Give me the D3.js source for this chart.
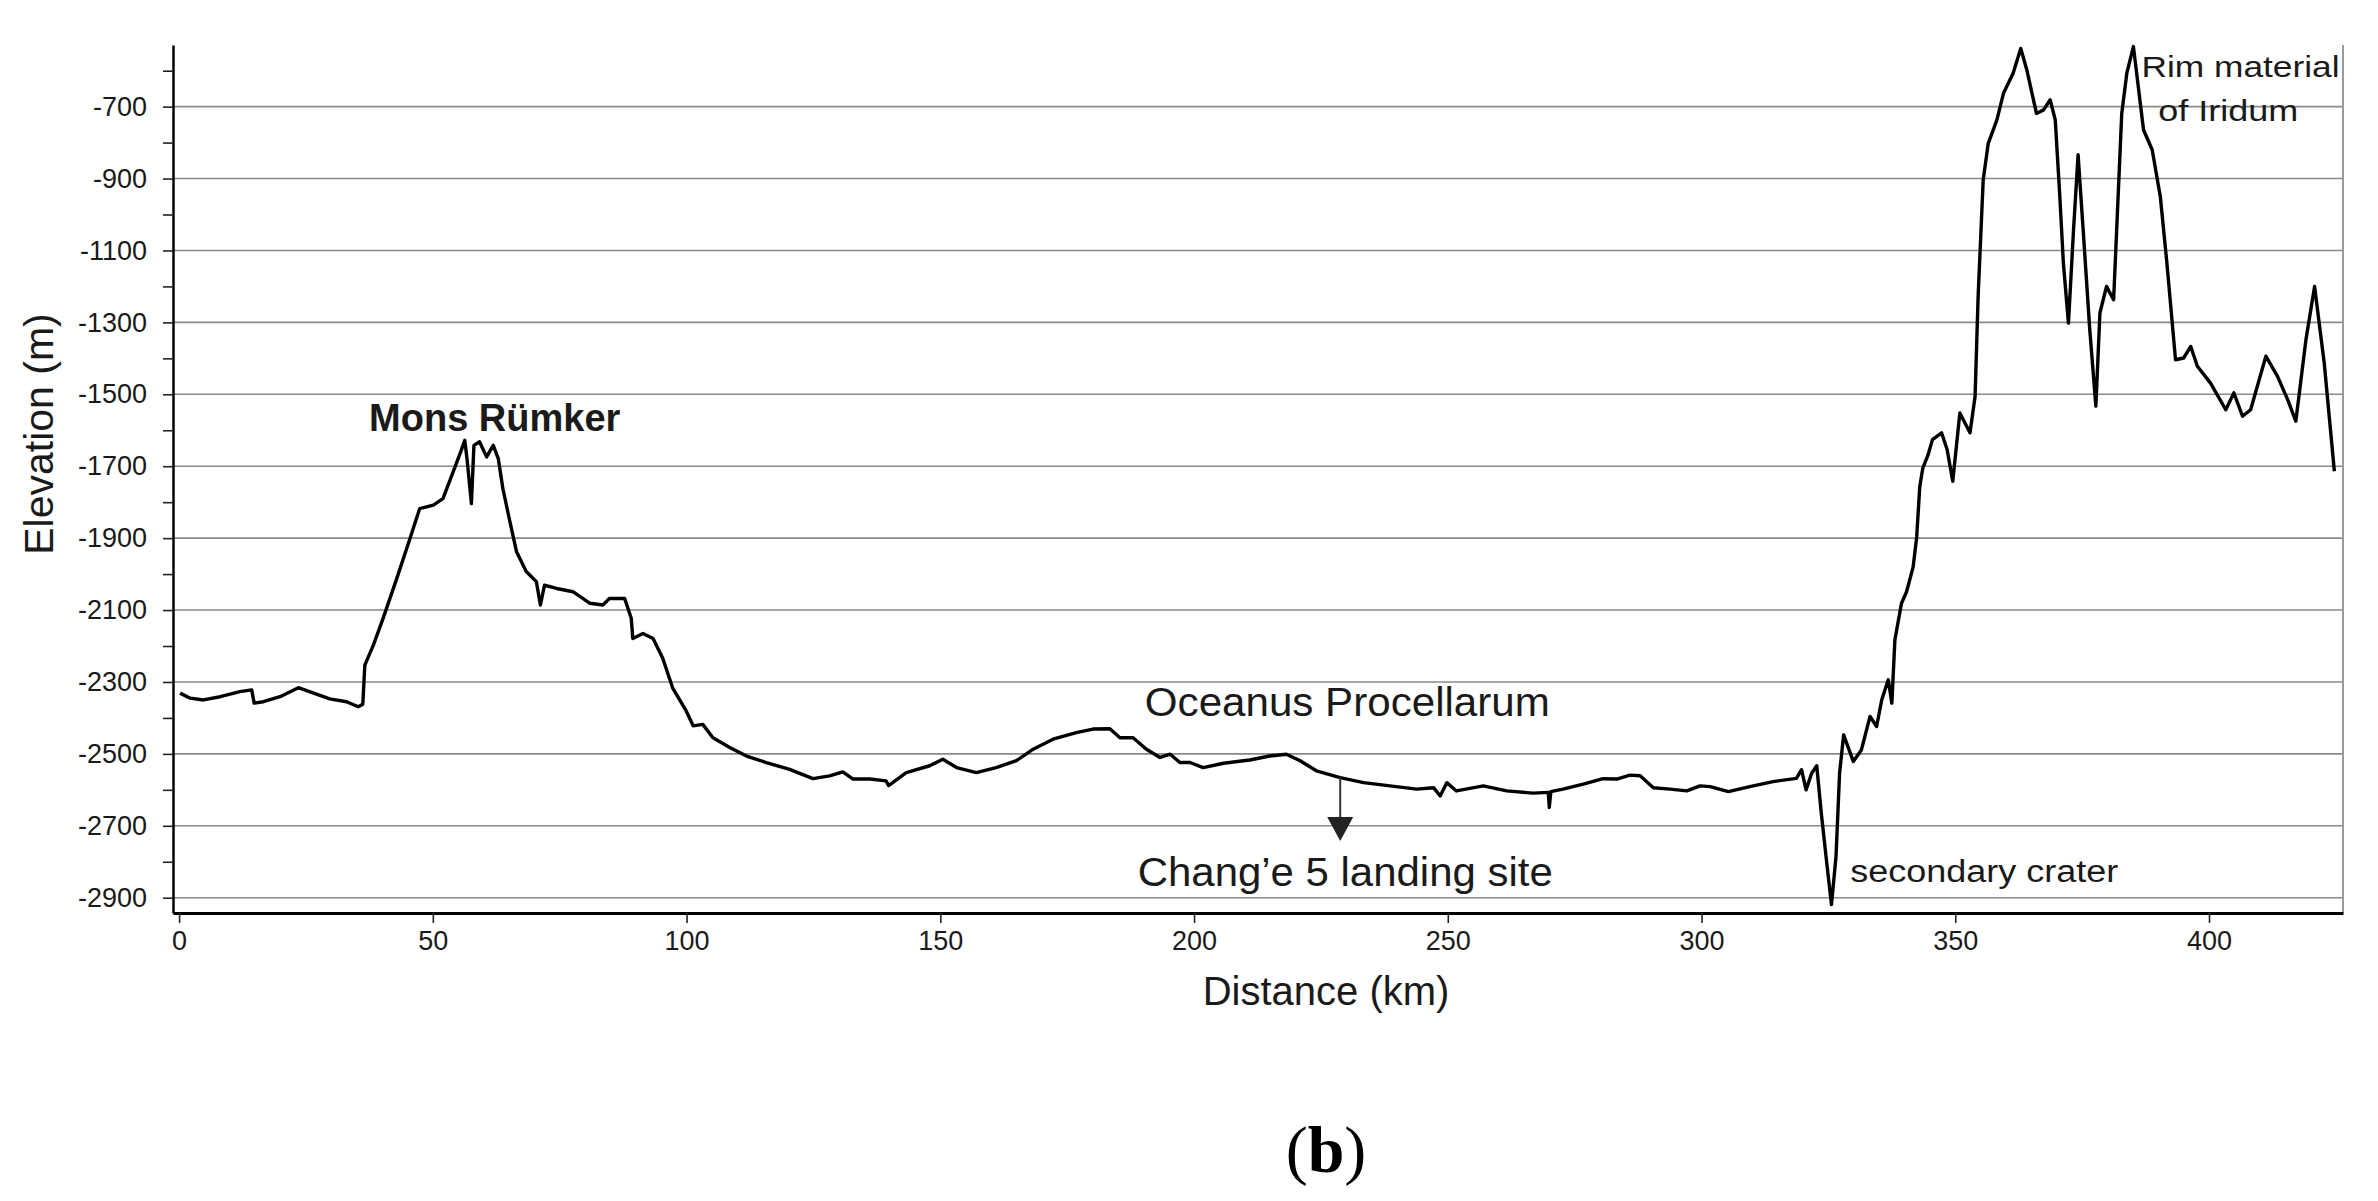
<!DOCTYPE html>
<html>
<head>
<meta charset="utf-8">
<script src="https://cdn.jsdelivr.net/npm/d3@7"></script>
<style>
  body { margin: 0; background: #fff; }
  text { font-family: "Liberation Sans", Arial, sans-serif; fill: #1a1a1a; }
</style>
</head>
<body>
<div id="chart"></div>
<script>
// elevation profile: distance (km) and elevation (m)
var distanceKm = [
  0.2, 2.2, 4.8, 8.1, 12.0, 14.3, 14.8, 16.6, 19.9, 23.5, 26.5, 29.7, 33.0, 35.3, 36.2,
  36.6, 38.3, 40.2, 42.9, 45.5, 47.4, 50.1, 52.0, 54.0, 55.6, 56.3, 56.8, 57.6, 58.1, 59.2,
  60.6, 61.9, 62.9, 63.8, 65.2, 66.5, 68.4, 70.4, 71.2, 72.0, 74.4, 77.6, 80.9, 83.5, 84.8,
  87.8, 89.1, 89.4, 91.4, 93.4, 95.3, 97.3, 99.9,
  101.3, 103.2, 105.2, 108.5, 111.8, 115.7, 120.3, 124.9, 128.2, 130.8, 132.8, 136.1, 139.3, 139.8,
  143.3, 147.9, 150.5, 153.2, 157.1, 161.0, 165.0, 168.3, 172.2, 176.8, 180.1, 183.4, 185.4,
  188.0, 190.6, 193.3, 195.3, 197.2, 199.2, 201.8, 205.8, 211.0, 214.9, 218.2, 220.9, 224.1,
  228.8, 233.4, 238.6, 243.9, 247.2, 248.5, 249.8, 251.7, 257.0, 261.6, 266.8, 269.8, 270.0,
  270.3, 272.7, 276.7, 280.6, 283.3, 285.9, 287.9, 290.5, 293.8, 297.1, 299.7,
  301.7, 305.3, 309.5, 314.1, 318.7, 319.7, 320.6, 321.7, 322.7, 323.6, 324.6, 325.6, 326.5,
  327.2, 328.0, 329.9, 331.5, 333.2, 334.5, 335.5, 336.8, 337.5, 338.1, 339.4, 340.4, 341.7,
  342.4, 343.0, 343.6, 344.6, 345.5, 347.3, 348.4, 349.5, 350.9, 352.9, 353.9, 354.5, 355.5,
  356.5, 358.2, 359.5, 361.4, 362.9, 364.1, 366.0, 367.4, 368.7, 369.7, 370.6, 371.3, 372.3,
  373.3, 374.2, 375.2, 376.5, 377.7, 378.5, 379.8, 381.2, 381.8, 382.8, 383.8, 385.1, 387.1,
  388.8, 390.4, 391.7, 393.4, 395.0, 396.4, 397.7, 400.3, 403.3, 404.9, 406.6, 408.2, 411.2,
  413.5, 415.5, 417.1, 419.1, 420.8, 422.7, 424.7
];
var elevationM = [
  -2331, -2345, -2350, -2341, -2327, -2322, -2359, -2355, -2341, -2316, -2331, -2347, -2355, -2369, -2362,
  -2253, -2197, -2123, -2012, -1901, -1818, -1808, -1790, -1716, -1656, -1628, -1688, -1804, -1642, -1632,
  -1674, -1642, -1679, -1762, -1855, -1938, -1993, -2021, -2086, -2031, -2040, -2049, -2081, -2086, -2068,
  -2068, -2123, -2179, -2165, -2179, -2234, -2318, -2380,
  -2422, -2418, -2455, -2482, -2506, -2524, -2543, -2569, -2561, -2550, -2570, -2570, -2575, -2588,
  -2552, -2533, -2515, -2538, -2552, -2538, -2519, -2487, -2459, -2441, -2431, -2430, -2455,
  -2455, -2487, -2510, -2501, -2524, -2524, -2538, -2526, -2517, -2506, -2501, -2519, -2547,
  -2566, -2580, -2589, -2598, -2594, -2617, -2580, -2603, -2589, -2603, -2609, -2607, -2649,
  -2605, -2598, -2584, -2569, -2570, -2559, -2561, -2594, -2598, -2603, -2589,
  -2591, -2605, -2591, -2577, -2568, -2544, -2600, -2554, -2533, -2665, -2794, -2919, -2785,
  -2554, -2447, -2521, -2489, -2396, -2424, -2350, -2294, -2359, -2183, -2081, -2049, -1980,
  -1896, -1757, -1705, -1670, -1626, -1607, -1654, -1742, -1552, -1607, -1506, -1228, -904,
  -802, -737, -663, -607, -538, -598, -719, -709, -681, -737, -950, -1135, -1302,
  -1043, -834, -1043, -1320, -1533, -1274, -1200, -1237, -1043, -719, -607, -533, -765,
  -820, -950, -1135, -1404, -1399, -1367, -1422, -1469, -1543, -1496, -1561, -1543, -1394,
  -1450, -1515, -1575, -1348, -1200, -1413, -1714
];

var xTicks = [0, 50, 100, 150, 200, 250, 300, 350, 400];
var yTicks = [-2900, -2800, -2700, -2600, -2500, -2400, -2300, -2200, -2100, -2000, -1900, -1800,
  -1700, -1600, -1500, -1400, -1300, -1200, -1100, -1000, -900, -800, -700, -600];
var yLabelled = [-2900, -2700, -2500, -2300, -2100, -1900, -1700, -1500, -1300, -1100, -900, -700];

// annotations: text, km, elevation of the baseline
var labelText = ["Mons Rümker", "Oceanus Procellarum", "Chang\u2019e 5 landing site", "secondary crater", "Rim material", "of Iridum"];
var labelKm = [62.2, 190.3, 188.9, 329.3, 386.7, 390.0];
var labelElev = [-1601, -2395, -2867, -2857, -617, -739];

// landing site arrow
var landingKm = 228.8;
var landingFrom = -2566;
var landingTo = -2742;

var W = 2378, H = 1201;
var margin = { top: 45, right: 35, bottom: 288, left: 173 };

var svg = d3.select("#chart")
  .append("svg")
  .attr("width", W)
  .attr("height", H);

svg.append("rect").attr("width", W).attr("height", H).attr("fill", "#fff");

var x = d3.scaleLinear()
  .domain([-1.2, 426.4])
  .range([margin.left, W - margin.right]);

var y = d3.scaleLinear()
  .domain([-2942.5, -528.6])
  .range([H - margin.bottom, margin.top]);

// grid
svg.append("g")
  .selectAll("line")
  .data(yLabelled)
  .enter()
  .append("line")
  .attr("x1", x.range()[0])
  .attr("x2", x.range()[1])
  .attr("y1", function (d) { return y(d) })
  .attr("y2", function (d) { return y(d) })
  .attr("stroke", "#8a8a8a")
  .attr("stroke-width", 1.6);

// right border
svg.append("line")
  .attr("x1", x.range()[1]).attr("x2", x.range()[1])
  .attr("y1", y.range()[1]).attr("y2", y.range()[0])
  .attr("stroke", "#9a9a9a")
  .attr("stroke-width", 2);

// the profile
svg.append("path")
  .datum(d3.range(distanceKm.length))
  .attr("fill", "none")
  .attr("stroke", "#000")
  .attr("stroke-width", 3.4)
  .attr("stroke-linejoin", "round")
  .attr("d", d3.line()
    .x(function (i) { return x(distanceKm[i]) })
    .y(function (i) { return y(elevationM[i]) })
  );

// Y axis
var yAxis = svg.append("g")
  .attr("transform", "translate(" + margin.left + ",0)")
  .call(d3.axisLeft(y)
    .tickValues(yTicks)
    .tickSize(10)
    .tickSizeOuter(0)
    .tickPadding(16)
    .tickFormat(function (d) { return yLabelled.indexOf(d) >= 0 ? String(d) : "" }));
yAxis.select(".domain").attr("stroke", "#000").attr("stroke-width", 2.5);
yAxis.selectAll(".tick line").attr("stroke", "#222").attr("stroke-width", 1.6);
yAxis.selectAll(".tick text").attr("font-size", 27).attr("font-family", "Liberation Sans, Arial").attr("fill", "#1a1a1a");

// X axis
var xAxis = svg.append("g")
  .attr("transform", "translate(0," + y.range()[0] + ")")
  .call(d3.axisBottom(x)
    .tickValues(xTicks)
    .tickSize(10)
    .tickSizeOuter(0)
    .tickPadding(8)
    .tickFormat(function (d) { return String(d) }));
xAxis.select(".domain").attr("stroke", "#000").attr("stroke-width", 3.2);
xAxis.selectAll(".tick line").attr("stroke", "#222").attr("stroke-width", 1.6);
xAxis.selectAll(".tick text").attr("font-size", 27).attr("font-family", "Liberation Sans, Arial").attr("fill", "#1a1a1a");

// axis titles
svg.append("text")
  .attr("text-anchor", "middle")
  .attr("transform", "translate(53,434) rotate(-90)")
  .attr("font-size", 41)
  .text("Elevation (m)");

svg.append("text")
  .attr("text-anchor", "middle")
  .attr("x", 1326)
  .attr("y", 1005)
  .attr("font-size", 40)
  .text("Distance (km)");

// annotations
var labelSize = [38, 40, 40, 31, 29, 29];
var labelWidth = [0, 405, 415, 268, 198, 140];
svg.append("g")
  .selectAll("text")
  .data(d3.range(labelText.length))
  .enter()
  .append("text")
  .attr("x", function (i) { return x(labelKm[i]) })
  .attr("y", function (i) { return y(labelElev[i]) })
  .attr("text-anchor", function (i) { return i === 0 ? "middle" : "start" })
  .attr("font-size", function (i) { return labelSize[i] })
  .attr("font-weight", function (i) { return i === 0 ? "bold" : "normal" })
  .attr("textLength", function (i) { return labelWidth[i] || null })
  .attr("lengthAdjust", "spacingAndGlyphs")
  .text(function (i) { return labelText[i] });

// landing site arrow
var ax = x(landingKm), ay1 = y(landingFrom), ay2 = y(landingTo);
svg.append("line")
  .attr("x1", ax).attr("x2", ax)
  .attr("y1", ay1).attr("y2", ay2 - 20)
  .attr("stroke", "#333")
  .attr("stroke-width", 2);
svg.append("path")
  .attr("d", "M" + (ax - 13) + "," + (ay2 - 24) + "L" + (ax + 13) + "," + (ay2 - 24) + "L" + ax + "," + ay2 + "Z")
  .attr("fill", "#222");

// panel letter
var cap = svg.append("text")
  .attr("text-anchor", "middle")
  .attr("x", 1326)
  .attr("y", 1172)
  .attr("font-size", 66)
  .style("font-family", "Liberation Serif, serif")
  .style("fill", "#000");
cap.append("tspan").attr("font-weight", "normal").text("(");
cap.append("tspan").attr("font-weight", "bold").text("b");
cap.append("tspan").attr("font-weight", "normal").text(")");
</script>
</body>
</html>
